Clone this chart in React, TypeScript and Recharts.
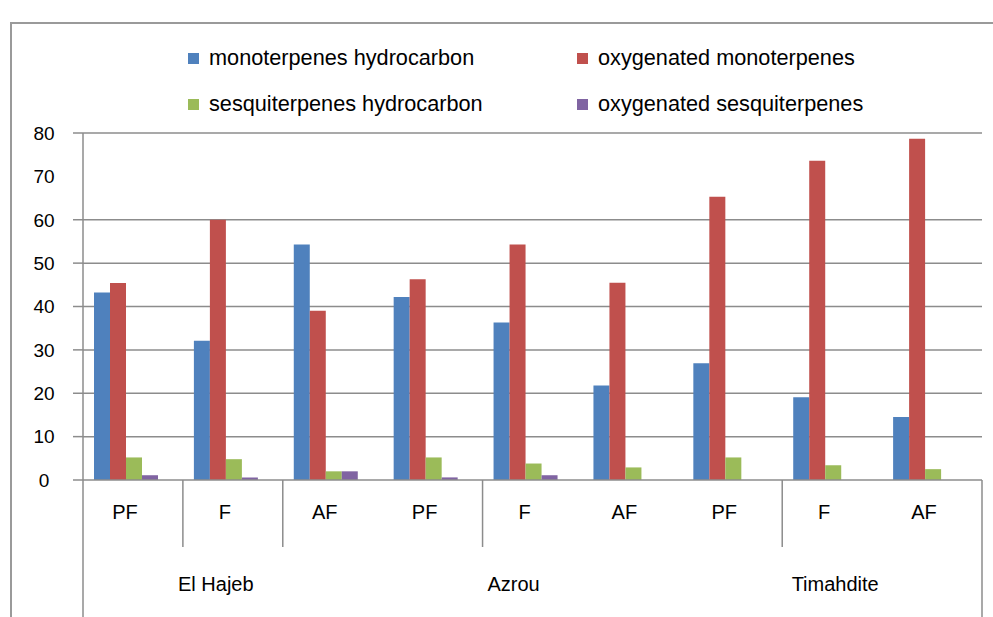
import { Bar, BarChart, CartesianGrid, XAxis, YAxis } from "recharts"

const stages = ["PF", "F", "AF", "PF", "F", "AF", "PF", "F", "AF"]
const sites = ["El Hajeb", "Azrou", "Timahdite"]

const monoHydro = [43.2, 32.1, 54.3, 42.2, 36.3, 21.8, 26.9, 19.1, 14.5]
const oxyMono = [45.4, 60.0, 39.0, 46.3, 54.3, 45.5, 65.3, 73.6, 78.7]
const sesquiHydro = [5.2, 4.8, 2.0, 5.2, 3.8, 2.9, 5.2, 3.4, 2.5]
const oxySesqui = [1.1, 0.6, 2.0, 0.6, 1.1, 0, 0, 0, 0]

const yTicks = [0, 10, 20, 30, 40, 50, 60, 70, 80]
// the source has no line (and no tick mark) at 70
const gridValues = [10, 20, 30, 40, 50, 60, 80]
// category boundaries that get a short divider in the source
const dividerAt = [1, 2, 4, 7]

const series = [
  { key: "mono", name: "monoterpenes hydrocarbon", color: "#4F81BD", values: monoHydro },
  { key: "oxyMono", name: "oxygenated monoterpenes", color: "#C0504D", values: oxyMono },
  { key: "sesqui", name: "sesquiterpenes hydrocarbon", color: "#9BBB59", values: sesquiHydro },
  { key: "oxySesqui", name: "oxygenated sesquiterpenes", color: "#8064A2", values: oxySesqui },
]

const data = stages.map((stage, i) => {
  const row: Record<string, string | number> = { id: `${sites[Math.floor(i / 3)]} ${stage}`, stage }
  series.forEach((s) => {
    row[s.key] = s.values[i]
  })
  return row
})

const W = 993
const H = 617
const margin = { top: 133, right: 11, bottom: 0, left: 23 }
const yAxisWidth = 60
const stageAxisHeight = 67
const siteAxisHeight = 70
const band = (W - margin.left - yAxisWidth - margin.right) / stages.length
const axisColor = "#8c8c8c"
const font = "'Liberation Sans', Arial, sans-serif"
// excel doesn't quite centre the outer labels
const siteNudge = [-17, -19, 3]

function YTick(props: any) {
  const { x, y, payload } = props
  const showMark = payload.value === 0 || gridValues.includes(payload.value)
  return (
    <g>
      {showMark && <line x1={x - 2} x2={x + 8} y1={y} y2={y} stroke={axisColor} strokeWidth={1.5} />}
      <text x={x - 31} y={y} dy="0.36em" textAnchor="middle" fontSize={19} fill="#000">
        {payload.value}
      </text>
    </g>
  )
}

function StageTick(props: any) {
  const { x, y, index } = props
  return (
    <g>
      {dividerAt.includes(index) && (
        <line x1={x - band / 2} x2={x - band / 2} y1={y} y2={y + stageAxisHeight} stroke={axisColor} strokeWidth={1.5} />
      )}
      {index === 0 && (
        <line x1={x - band / 2} x2={x - band / 2} y1={y} y2={H} stroke={axisColor} strokeWidth={1.5} />
      )}
      {index === stages.length - 1 && (
        <line x1={x + band / 2} x2={x + band / 2} y1={y} y2={H} stroke={axisColor} strokeWidth={1.5} />
      )}
      <text x={x - 8} y={y + 32} dy="0.36em" textAnchor="middle" fontSize={20} fill="#000">
        {stages[index]}
      </text>
    </g>
  )
}

function SiteTick(props: any) {
  const { x, y, index } = props
  if (index % 3 !== 1) return <g />
  const g = Math.floor(index / 3)
  return (
    <text x={x + siteNudge[g]} y={y + 37} dy="0.36em" textAnchor="middle" fontSize={20} fill="#000">
      {sites[g]}
    </text>
  )
}

function Legend() {
  return (
    <div
      style={{
        position: "absolute",
        left: 188,
        top: 45,
        display: "grid",
        gridTemplateColumns: "389px auto",
        rowGap: 20,
        fontSize: 21.7,
        lineHeight: "26px",
        fontFamily: font,
        color: "#000",
      }}
    >
      {series.map((s) => (
        <div key={s.key} style={{ display: "flex", alignItems: "center" }}>
          <span style={{ width: 11, height: 11, background: s.color, marginRight: 10 }} />
          <span>{s.name}</span>
        </div>
      ))}
    </div>
  )
}

export default function App() {
  return (
    <div style={{ position: "fixed", left: 0, top: 0, width: W, height: H, background: "#fff", fontFamily: font }}>
      <div
        style={{
          position: "absolute",
          left: 10,
          top: 22,
          width: W,
          height: H,
          borderLeft: "2px solid #9a9a9a",
          borderTop: "2px solid #9a9a9a",
        }}
      />
      <Legend />
      <div style={{ position: "absolute", left: 0, top: 0 }}>
        <BarChart width={W} height={H} data={data} margin={margin} barGap={0} barCategoryGap={11}>
          <CartesianGrid vertical={false} horizontalValues={gridValues} stroke={axisColor} strokeWidth={1.5} />
          <XAxis
            dataKey="id"
            xAxisId={0}
            interval={0}
            height={stageAxisHeight}
            tickSize={0}
            tickMargin={0}
            tickLine={false}
            axisLine={{ stroke: axisColor, strokeWidth: 1.5 }}
            tick={<StageTick />}
          />
          <XAxis
            dataKey="id"
            xAxisId="site"
            interval={0}
            height={siteAxisHeight}
            tickSize={0}
            tickMargin={0}
            tickLine={false}
            axisLine={false}
            tick={<SiteTick />}
          />
          <YAxis
            width={yAxisWidth}
            domain={[0, 80]}
            ticks={yTicks}
            interval={0}
            tickLine={false}
            axisLine={{ stroke: axisColor, strokeWidth: 1.5 }}
            tick={<YTick />}
          />
          {series.map((s) => (
            <Bar key={s.key} dataKey={s.key} name={s.name} fill={s.color} xAxisId={0} isAnimationActive={false} />
          ))}
          {/* empty fifth slot, as in the source the bar groups sit left of centre */}
          <Bar dataKey="unused" xAxisId={0} legendType="none" isAnimationActive={false} />
        </BarChart>
      </div>
    </div>
  )
}
